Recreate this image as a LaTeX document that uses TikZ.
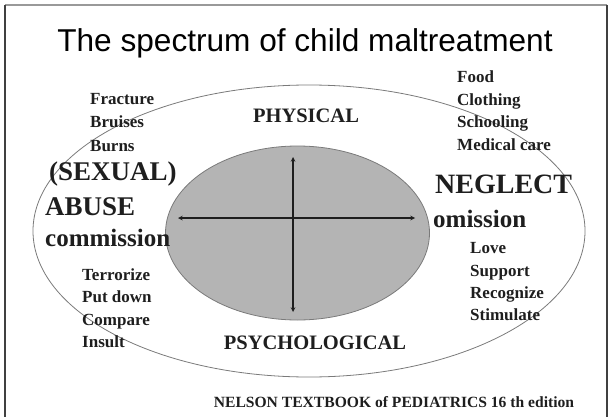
\documentclass[tikz,border=0pt]{standalone}
\usepackage{fontspec}
\setmainfont{Liberation Serif}
\newfontfamily\titlefont{Liberation Sans}
\usetikzlibrary{arrows.meta, positioning}
\definecolor{txtdark}{HTML}{1E1E1E}
\definecolor{innergray}{HTML}{B4B4B4}
\definecolor{rimgray}{HTML}{7A7A7A}
\newcommand{\fs}[1]{\fontsize{#1}{#1}\selectfont\bfseries}

\begin{document}
\begin{tikzpicture}[x=1pt, y=-1pt,
    txt/.style={inner sep=0pt, text=txtdark},
    word/.style={txt, anchor=base west, font=\fs{17}},
    big/.style={txt, anchor=base west, font=\fs{27}},
    axis/.style={txt, anchor=base, font=\fs{20.5}},
    arrow/.style={<->, >=stealth, line width=1.1pt, draw=txtdark}
]
\useasboundingbox (0,0) rectangle (612,417);

% frame
\draw[draw=gray!80, line width=1.2pt] (5,5) -- (607,5);
\draw[draw=txtdark!85, line width=1.2pt] (5,5) -- (5,417);
\draw[draw=txtdark!85, line width=1.2pt] (607,5) -- (607,417);

% title
\node[inner sep=0pt, anchor=base, font=\titlefont\fontsize{31.6}{32}\selectfont] (title) at (305,52) {The spectrum of child maltreatment};

% ellipses
\draw[draw=rimgray, line width=0.8pt] (309,231) ellipse [x radius=276, y radius=146];
\draw[draw=rimgray, fill=innergray, line width=0.8pt] (297.5,233) ellipse [x radius=132, y radius=87];

% cross
\coordinate (west) at (178,218);
\coordinate (east) at (415,218);
\coordinate (north) at (293,157);
\coordinate (south) at (293,312);
\draw[arrow] (west) -- (east);
\draw[arrow] (north) -- (south);

% axis labels
\node[axis] (physical) at (306,122) {PHYSICAL};
\node[axis] (psycho) at (315,349) {PSYCHOLOGICAL};

% abuse side
\node[word] (fracture) at (90,105) {Fracture};
\node[word] (bruises) at (90,128) {Bruises};
\node[word] (burns) at (90,151) {Burns};
\node[big] (sexual) at (49,180) {(SEXUAL)};
\node[big] (abuse) at (45,215) {ABUSE};
\node[big, font=\fs{25}] (commission) at (45,246) {commission};
\node[word] (terrorize) at (82,280) {Terrorize};
\node[word] (putdown) at (82,302) {Put down};
\node[word] (compare) at (82,325) {Compare};
\node[word] (insult) at (82,347) {Insult};

% neglect side
\node[word] (food) at (457,83) {Food};
\node[word] (clothing) at (457,106) {Clothing};
\node[word] (schooling) at (457,128) {Schooling};
\node[word] (medical) at (457,150) {Medical care};
\node[big, font=\fs{28}] (neglect) at (435,193) {NEGLECT};
\node[big, font=\fs{25}] (omission) at (433,227) {omission};
\node[word] (love) at (470,253) {Love};
\node[word] (support) at (470,276) {Support};
\node[word] (recognize) at (470,298) {Recognize};
\node[word] (stimulate) at (470,320) {Stimulate};

% source
\node[txt, anchor=base, font=\fs{15.6}] (source) at (394,407) {NELSON TEXTBOOK of PEDIATRICS 16 th edition};
\end{tikzpicture}
\end{document}
